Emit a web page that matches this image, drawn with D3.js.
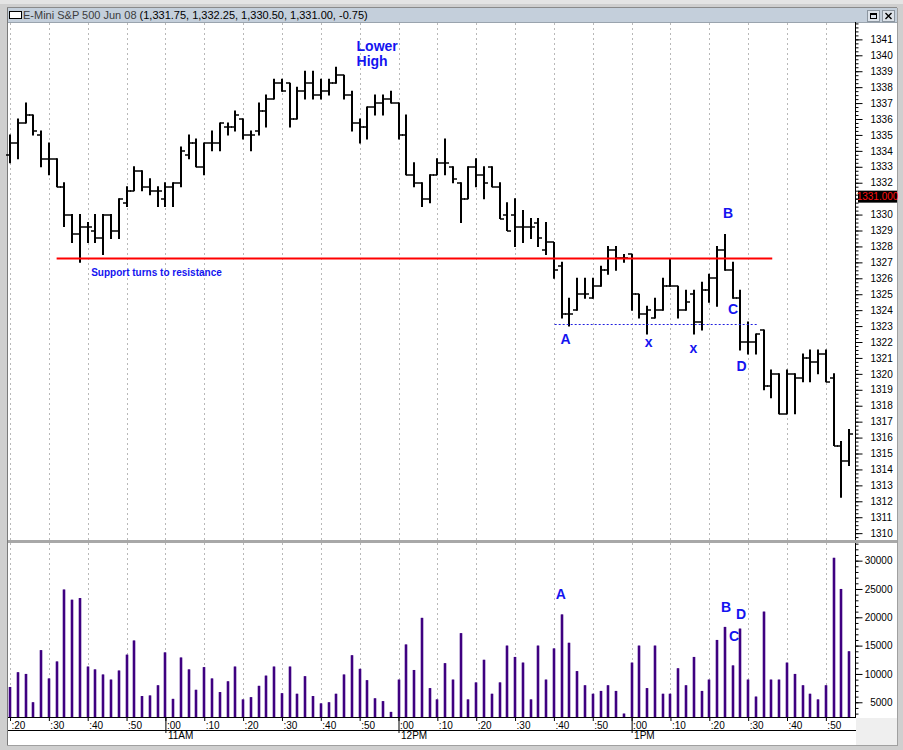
<!DOCTYPE html>
<html><head><meta charset="utf-8">
<script src="https://cdn.jsdelivr.net/npm/d3@7"></script>
<style>body{margin:0;background:#fff;} svg{display:block;}</style>
</head><body>
<svg id="chart" width="903" height="750"></svg>
<script>
// ---------------- DATA ----------------
const titleName = "E-Mini S&P 500 Jun 08 ";
const titleValues = "(1,331.75, 1,332.25, 1,330.50, 1,331.00, -0.75)";
const startTime = new Date(2008, 5, 2, 10, 20); // first 2-minute bar
const barMinutes = 2;
const opens = [1333.75,1334.5,1335.75,1336.25,1335.0,1333.5,1333.5,1331.75,1330.0,1328.75,
 1329.25,1329.0,1328.5,1330.0,1329.0,1330.75,1331.5,1332.75,1331.75,1331.5,
 1331.0,1331.75,1332.0,1333.75,1334.5,1333.0,1334.5,1334.5,1335.5,1335.5,
 1336.0,1335.0,1335.25,1336.5,1337.25,1338.25,1338.25,1336.0,1337.75,1338.25,
 1337.5,1337.75,1338.25,1338.75,1337.5,1335.75,1335.5,1336.75,1337.0,1337.25,
 1337.0,1335.0,1332.5,1332.0,1331.0,1332.5,1333.25,1333.0,1332.0,1331.0,
 1333.0,1332.5,1333.0,1331.75,1330.0,1330.0,1329.25,1329.25,1329.5,1327.75,
 1328.25,1326.75,1323.75,1324.0,1325.0,1324.75,1325.5,1326.5,1327.75,1327.25,
 1327.5,1325.0,1323.75,1323.5,1324.0,1325.5,1325.5,1324.0,1325.0,1323.25,
 1325.25,1326.0,1327.75,1326.5,1324.75,1322.0,1322.0,1322.75,1319.25,1320.0,
 1317.5,1320.0,1319.75,1321.0,1320.75,1321.25,1319.75,1315.5,1314.5];
const highs = [1335.0,1336.0,1337.0,1336.25,1335.25,1334.5,1333.5,1332.0,1330.0,1330.0,
 1329.5,1330.0,1330.0,1330.0,1331.0,1331.75,1333.0,1332.75,1332.25,1331.75,
 1332.0,1332.0,1334.25,1335.0,1334.75,1334.5,1335.25,1335.75,1335.75,1336.5,
 1336.0,1335.25,1337.0,1337.5,1338.5,1338.5,1338.25,1338.0,1339.0,1339.0,
 1338.5,1338.5,1339.25,1338.75,1337.75,1336.0,1336.75,1337.5,1337.5,1337.75,
 1337.0,1336.25,1333.25,1332.0,1332.5,1333.5,1334.75,1333.0,1332.0,1333.0,
 1333.5,1333.0,1333.0,1332.0,1330.75,1331.0,1330.25,1329.75,1329.75,1329.5,
 1328.25,1327.0,1324.75,1326.0,1326.0,1326.0,1326.75,1328.0,1328.0,1327.5,
 1327.5,1325.0,1324.25,1324.75,1326.0,1327.25,1325.5,1325.25,1325.25,1325.75,
 1326.25,1328.0,1328.75,1327.0,1325.25,1323.25,1322.5,1322.75,1320.25,1320.0,
 1320.25,1320.0,1321.25,1321.5,1321.5,1321.5,1320.0,1315.75,1316.5];
const lows = [1333.25,1333.5,1335.75,1335.0,1333.0,1332.5,1331.75,1329.25,1328.25,1327.0,
 1328.25,1328.25,1327.5,1328.5,1328.5,1330.5,1331.5,1331.5,1331.25,1330.5,
 1330.5,1330.5,1331.75,1333.5,1333.0,1332.5,1334.0,1334.0,1335.0,1335.25,
 1334.75,1334.0,1335.0,1335.5,1337.25,1337.75,1335.5,1336.0,1337.25,1337.25,
 1337.25,1337.5,1338.25,1337.25,1335.25,1334.5,1334.75,1336.25,1336.25,1337.0,
 1334.75,1332.5,1331.75,1330.5,1330.75,1332.5,1332.5,1332.0,1329.5,1331.0,
 1331.75,1331.0,1331.75,1329.75,1329.0,1328.0,1328.25,1328.5,1328.0,1327.5,
 1326.0,1323.5,1323.0,1324.0,1324.75,1324.75,1325.5,1326.25,1326.5,1327.0,
 1324.0,1323.5,1322.5,1323.5,1324.0,1325.5,1323.5,1324.0,1322.5,1322.75,
 1324.5,1324.25,1326.5,1324.75,1321.5,1321.25,1321.25,1319.0,1318.5,1317.5,
 1317.5,1317.5,1319.5,1319.5,1320.0,1319.5,1315.5,1312.25,1314.25];
const closes = [1334.5,1335.75,1336.25,1335.25,1333.5,1333.5,1331.75,1330.0,1328.75,1329.25,
 1329.25,1328.5,1330.0,1329.0,1331.0,1331.5,1332.75,1331.75,1331.5,1331.5,
 1331.75,1332.0,1334.0,1334.5,1333.0,1334.5,1334.5,1335.75,1335.5,1336.25,
 1335.0,1335.0,1336.5,1337.25,1338.25,1337.75,1336.0,1337.75,1338.25,1337.5,
 1337.75,1338.25,1338.75,1337.5,1335.75,1335.5,1336.75,1337.0,1337.25,1337.0,
 1335.0,1332.5,1332.0,1331.0,1332.5,1333.25,1333.25,1332.25,1331.0,1333.0,
 1332.5,1332.0,1331.75,1329.75,1329.0,1329.25,1329.25,1329.25,1328.5,1328.25,
 1326.5,1323.75,1323.75,1325.0,1325.0,1325.5,1326.5,1327.75,1327.25,1327.25,
 1325.0,1323.75,1324.0,1324.0,1325.5,1325.5,1324.0,1324.5,1323.25,1325.25,
 1326.0,1327.75,1326.5,1324.75,1322.0,1322.0,1322.5,1319.25,1320.0,1317.5,
 1320.0,1319.75,1321.0,1320.75,1321.25,1319.5,1315.5,1314.5,1316.25];
const volumes = [7700,10300,10000,5000,14200,9200,12200,24900,23100,23400,
 11300,10800,9900,9000,10600,13400,15900,6100,6200,8000,
 13800,5600,12900,10800,7200,11200,9200,6800,8700,11300,
 5500,5900,7900,9700,11300,6600,11300,6500,9600,6100,
 4800,5000,6500,9900,13300,10900,8900,5700,5200,3300,
 9000,15200,10700,19900,7500,5500,11900,9000,17200,5500,
 8500,12500,6500,8500,15000,13000,12000,5500,15000,9000,
 14500,20500,15500,10500,8000,6500,7000,8000,7000,3000,
 12000,15000,7500,15000,6500,6500,11000,8000,13000,7000,
 9000,16000,18300,11500,18000,9000,6000,21000,9000,9000,
 12000,10000,8000,6500,5500,8000,30500,25000,14000];
const priceTicks = [1310,1311,1312,1313,1314,1315,1316,1317,1318,1319,1320,1321,1322,1323,1324,1325,
 1326,1327,1328,1329,1330,1331,1332,1333,1334,1335,1336,1337,1338,1339,1340,1341];
const volumeTicks = [5000,10000,15000,20000,25000,30000];
const lastPrice = 1331.0;
const resistance = {price: 1327.25, fromBar: 6, toBar: 98.1};
const supportA = {price: 1323.15, fromBar: 70.1, toBar: 96.1};
// annotations: bar index (fractional) of left edge, price of baseline
const priceNotes = [
  {text:"Lower", bar:44.6, price:1340.25, size:14},
  {text:"High", bar:44.6, price:1339.3, size:14},
  {text:"Support turns to resistance", bar:10.45, price:1326.14, size:10},
  {text:"A", bar:70.85, price:1321.85, size:14},
  {text:"x", bar:81.7, price:1321.7, size:14},
  {text:"x", bar:87.45, price:1321.31, size:14},
  {text:"B", bar:91.75, price:1329.8, size:14},
  {text:"C", bar:92.4, price:1323.76, size:14},
  {text:"D", bar:93.5, price:1320.18, size:14}
];
const volumeNotes = [
  {text:"A", bar:70.9, vol:23230},
  {text:"B", bar:92.15, vol:20940},
  {text:"C", bar:93.2, vol:15830},
  {text:"D", bar:94.1, vol:19700}
];

// ---------------- SCALES ----------------
const svg = d3.select("#chart");
const W = 903, H = 750;
const L = 8, R = 855, PT = 22, PB = 540, VT = 543, VB = 717;
const minMs = 60000;
const barTime = i => new Date(+startTime + i * barMinutes * minMs);
const x = d3.scaleTime()
  .domain([new Date(+startTime - 0.515 * minMs), new Date(+startTime + 217.5 * minMs)])
  .range([L, R]);
const yP = d3.scaleLinear().domain([1309.57, 1342.09]).range([PB, PT]);
const yV = d3.scaleLinear().domain([2400, 33115]).range([VB, VT]);
const blue = "#1414f0";
const font = "'Liberation Sans', Arial, sans-serif";

// ---------------- FRAME ----------------
svg.append("rect").attr("width", W).attr("height", H).attr("fill", "#cfcfcf");
svg.append("rect").attr("x", 0).attr("y", 0).attr("width", W).attr("height", 4).attr("fill", "#e4e4e4");
svg.append("rect").attr("x", 7).attr("y", 8).attr("width", 890).attr("height", 14).attr("fill", "#c4cfdb");
svg.append("line").attr("x1", 7).attr("x2", 897).attr("y1", 7.5).attr("y2", 7.5).attr("stroke", "#8a8a8a");
svg.append("rect").attr("x", L).attr("y", PT).attr("width", 889).attr("height", 723).attr("fill", "#fff");
svg.append("line").attr("x1", 7.5).attr("x2", 7.5).attr("y1", 8).attr("y2", 745).attr("stroke", "#7a7a7a");
svg.append("line").attr("x1", 8).attr("x2", 897).attr("y1", 22.5).attr("y2", 22.5).attr("stroke", "#9aa4ae");
svg.append("line").attr("x1", 897.5).attr("x2", 897.5).attr("y1", 8).attr("y2", 745).attr("stroke", "#a0a0a0");
svg.append("line").attr("x1", 7).attr("x2", 898).attr("y1", 745.5).attr("y2", 745.5).attr("stroke", "#a0a0a0");
// title
svg.append("rect").attr("x", 9.5).attr("y", 11.5).attr("width", 12).attr("height", 7).attr("fill", "#fff").attr("stroke", "#000");
const tt = svg.append("text").attr("x", 23).attr("y", 19).attr("font-family", font).attr("font-size", 11);
tt.append("tspan").attr("fill", "#3c3c3c").text(titleName);
tt.append("tspan").attr("fill", "#000").text(titleValues);
// window buttons
[[867, "max"], [882, "close"]].forEach(([bx, kind]) => {
  const g = svg.append("g").attr("transform", `translate(${bx},10)`);
  g.append("rect").attr("x", 0.5).attr("y", 0.5).attr("width", 12).attr("height", 11).attr("fill", "#dde3ea").attr("stroke", "#8c96a0");
  if (kind === "max") {
    g.append("rect").attr("x", 3.5).attr("y", 3.5).attr("width", 6).attr("height", 5).attr("fill", "none").attr("stroke", "#000");
    g.append("line").attr("x1", 3).attr("x2", 10).attr("y1", 4.5).attr("y2", 4.5).attr("stroke", "#000");
  } else {
    g.append("path").attr("d", "M3.5,3 L9.5,9 M9.5,3 L3.5,9").attr("stroke", "#000").attr("stroke-width", 1.4);
  }
});

// panel separator
svg.append("rect").attr("x", L).attr("y", PB).attr("width", 889).attr("height", 3).attr("fill", "#a8a8a8");
svg.append("rect").attr("x", R + 1).attr("y", VB + 1).attr("width", 41).attr("height", 27).attr("fill", "#efefef");

// ---------------- GRIDLINES ----------------
const gridTimes = d3.timeMinute.every(10).range(x.domain()[0], x.domain()[1]);
const grid = svg.append("g").attr("stroke", "#b8b8b8").attr("stroke-dasharray", "2,3").attr("stroke-width", 1);
gridTimes.forEach(t => {
  const gx = Math.round(x(t)) + 0.5;
  grid.append("line").attr("x1", gx).attr("x2", gx).attr("y1", PT + 1).attr("y2", PB);
  grid.append("line").attr("x1", gx).attr("x2", gx).attr("y1", VT).attr("y2", VB);
});

// ---------------- PRICE BARS ----------------
const bars = svg.append("g").attr("stroke", "#000").attr("stroke-width", 2);
opens.forEach((o, i) => {
  const bx = Math.round(x(barTime(i)));
  bars.append("line").attr("x1", bx).attr("x2", bx).attr("y1", yP(highs[i]) - 0.5).attr("y2", yP(lows[i]) + 0.5);
  bars.append("line").attr("x1", bx - 4).attr("x2", bx).attr("y1", Math.round(yP(o))).attr("y2", Math.round(yP(o))).attr("stroke-width", 1.5);
  bars.append("line").attr("x1", bx).attr("x2", bx + 4).attr("y1", Math.round(yP(closes[i]))).attr("y2", Math.round(yP(closes[i]))).attr("stroke-width", 1.5);
});

// resistance and support lines
svg.append("line").attr("x1", x(barTime(resistance.fromBar)) ).attr("x2", x(barTime(resistance.toBar)))
  .attr("y1", yP(resistance.price)).attr("y2", yP(resistance.price)).attr("stroke", "#ff0000").attr("stroke-width", 2);
svg.append("line").attr("x1", x(barTime(supportA.fromBar))).attr("x2", x(barTime(supportA.toBar)))
  .attr("y1", Math.round(yP(supportA.price)) + 0.5).attr("y2", Math.round(yP(supportA.price)) + 0.5)
  .attr("stroke", "#2020e0").attr("stroke-width", 1).attr("stroke-dasharray", "2,2");

// price annotations
priceNotes.forEach(n => {
  svg.append("text").attr("x", x(barTime(n.bar))).attr("y", yP(n.price))
    .attr("font-family", font).attr("font-weight", "bold").attr("font-size", n.size)
    .attr("fill", blue).text(n.text);
});

// ---------------- VOLUME BARS ----------------
const vg = svg.append("g");
volumes.forEach((v, i) => {
  const bx = Math.round(x(barTime(i)));
  vg.append("rect").attr("x", bx - 1.5).attr("y", yV(v)).attr("width", 3).attr("height", VB - yV(v)).attr("fill", "#8a6ab8");
  vg.append("rect").attr("x", bx - 1).attr("y", yV(v)).attr("width", 2).attr("height", VB - yV(v)).attr("fill", "#3f0080");
});
volumeNotes.forEach(n => {
  svg.append("text").attr("x", x(barTime(n.bar))).attr("y", yV(n.vol))
    .attr("font-family", font).attr("font-weight", "bold").attr("font-size", 14)
    .attr("fill", blue).attr("text-anchor", "middle").text(n.text);
});

// ---------------- AXES ----------------
const quarterTicks = d3.range(1309.75, 1342.01, 0.25);
const pMinor = svg.append("g").attr("transform", `translate(${R + 0.5},0)`)
  .call(d3.axisRight(yP).tickValues(quarterTicks).tickSize(3).tickFormat(""));
const pMajor = svg.append("g").attr("transform", `translate(${R + 0.5},0)`)
  .call(d3.axisRight(yP).tickValues(priceTicks).tickSize(7).tickPadding(8)
    .tickFormat(d => d === lastPrice ? "" : d3.format("d")(d)));
[pMinor, pMajor].forEach(g => { g.select(".domain").attr("d", `M0,${PT}V${PB}`); });
pMajor.selectAll("text").attr("font-family", font).attr("font-size", 10).attr("fill", "#000");
pMajor.selectAll(".tick line, .domain").attr("stroke", "#000");

const vMinorTicks = d3.range(3000, 33001, 1000);
const vMinor = svg.append("g").attr("transform", `translate(${R + 0.5},0)`)
  .call(d3.axisRight(yV).tickValues(vMinorTicks).tickSize(3).tickFormat(""));
const vMajor = svg.append("g").attr("transform", `translate(${R + 0.5},0)`)
  .call(d3.axisRight(yV).tickValues(volumeTicks).tickSize(7).tickPadding(30).tickFormat(d3.format("d")));
[vMinor, vMajor].forEach(g => { g.select(".domain").attr("d", `M0,${VT}V${VB}`); });
vMajor.selectAll("text").attr("font-family", font).attr("font-size", 10).attr("fill", "#000").attr("text-anchor", "end");
vMajor.selectAll(".tick text").attr("x", 37);

// last price marker
svg.append("rect").attr("x", R + 3).attr("y", yP(lastPrice) - 8).attr("width", 39).attr("height", 12).attr("fill", "#000");
svg.append("text").attr("x", R + 22.5).attr("y", yP(lastPrice) + 1.5).attr("text-anchor", "middle")
  .attr("font-family", font).attr("font-size", 10).attr("fill", "#ff1010").text(lastPrice.toFixed(3));

// time axis
svg.append("line").attr("x1", L).attr("x2", R + 1).attr("y1", VB + 0.5).attr("y2", VB + 0.5).attr("stroke", "#000");
svg.append("line").attr("x1", L).attr("x2", R + 1).attr("y1", 730.5).attr("y2", 730.5).attr("stroke", "#000");
const tAxis = svg.append("g").attr("transform", `translate(0,${VB})`)
  .call(d3.axisBottom(x).ticks(d3.timeMinute.every(10)).tickSize(4).tickPadding(1).tickFormat(d3.timeFormat(":%M")));
tAxis.select(".domain").remove();
tAxis.selectAll(".tick line").attr("stroke", "#000");
tAxis.selectAll("text").attr("text-anchor", "start").attr("dx", 1).attr("font-family", font).attr("font-size", 10).attr("fill", "#000");
const hAxis = svg.append("g").attr("transform", `translate(0,${VB})`)
  .call(d3.axisBottom(x).ticks(d3.timeHour.every(1)).tickSize(16).tickPadding(-1).tickFormat(d3.timeFormat("%-I%p")));
hAxis.select(".domain").remove();
hAxis.selectAll(".tick line").attr("stroke", "#000");
hAxis.selectAll("text").attr("text-anchor", "start").attr("dx", 2).attr("font-family", font).attr("font-size", 10).attr("fill", "#000");
</script>
</body></html>
